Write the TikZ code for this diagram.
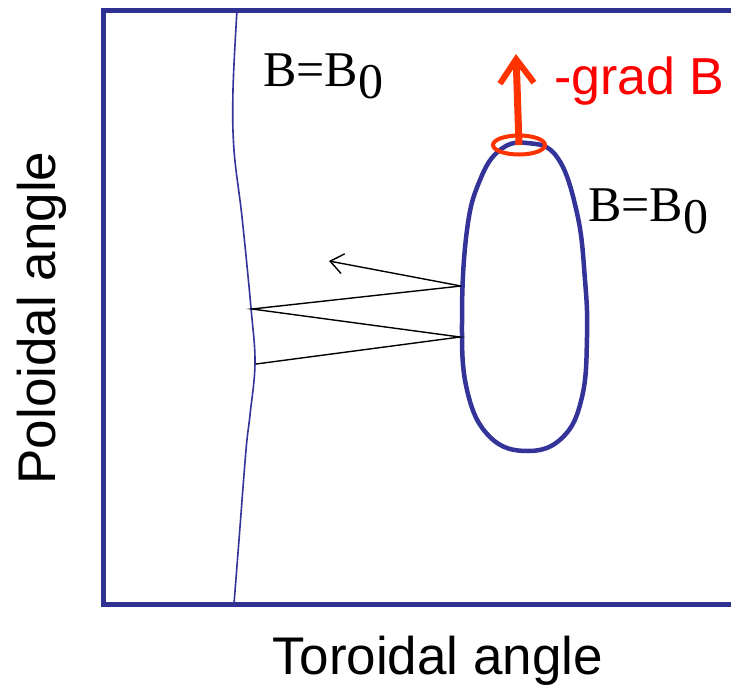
\documentclass[tikz,border=0pt]{standalone}
\usepackage{fontspec}
\setmainfont{Liberation Serif}
\newfontfamily\arialfont{Liberation Sans}
\usetikzlibrary{arrows.meta}
\definecolor{frameblue}{RGB}{46,49,146}
\definecolor{loopblue}{RGB}{51,51,153}
\definecolor{gradred}{RGB}{255,51,0}

\begin{document}
\begin{tikzpicture}[
  x=1pt, y=-1pt,
  frame/.style={draw=frameblue, line width=5pt, line join=miter},
  field/.style={draw=loopblue, line width=1.6pt},
  surf/.style={draw=loopblue, line width=4.5pt},
  orbit/.style={draw=black, line width=1.4pt},
  axislab/.style={font=\arialfont\fontsize{53}{60}\selectfont, inner sep=0pt},
  blab/.style={font=\fontsize{50}{58}\selectfont, inner sep=0pt},
  gradlab/.style={font=\arialfont\fontsize{52}{60}\selectfont, text=red, inner sep=0pt}
]
\useasboundingbox (0,0) rectangle (731,686);
\clip (0,0) rectangle (731,686);
\draw[frame] (745,10.5) -- (103.5,10.5) -- (103.5,604.5) -- (745,604.5);
\draw[field] plot[smooth, tension=0.6] coordinates {(237,10) (233,90) (234,150) (242,217)
  (251,308) (255,363) (250,415) (246,450) (239,540) (234,604)};
\draw[surf] plot[smooth cycle, tension=0.7] coordinates {(527,143) (557,157) (577,213)
  (585,280) (587,337) (582,397) (563,437) (528,451) (490,437) (467,390)
  (462,317) (467,230) (480,180) (500,150)};
\coordinate (p1) at (461,286);
\coordinate (p2) at (252,309);
\coordinate (p3) at (460,337);
\coordinate (p4) at (256,364);
\coordinate (p0) at (329,261);
\draw[orbit] (p1) -- (p2) -- (p3) -- (p4);
\draw[orbit, -{Straight Barb[length=13pt, width=20pt]}] (p1) -- (p0);
\coordinate (top) at (519,145);
\coordinate (tip) at (516,54);
\draw[gradred, line width=7pt, -{Straight Barb[length=24pt, width=34pt, line width=6pt]}] (top) -- (tip);
\draw[gradred, line width=4pt] (top) ellipse[x radius=26, y radius=9.5];
\node[gradlab, anchor=base west] (grad) at (554,94) {-grad B};
\node[blab, anchor=base west] (b1) at (263,86) {B=B\raisebox{-12pt}{0}};
\node[blab, anchor=base west] (b2) at (588,221) {B=B\raisebox{-12pt}{0}};
\node[axislab, anchor=base] (tor) at (438,674) {Toroidal angle};
\node[axislab, anchor=base, rotate=90] (pol) at (55,318) {Poloidal angle};
\end{tikzpicture}
\end{document}
